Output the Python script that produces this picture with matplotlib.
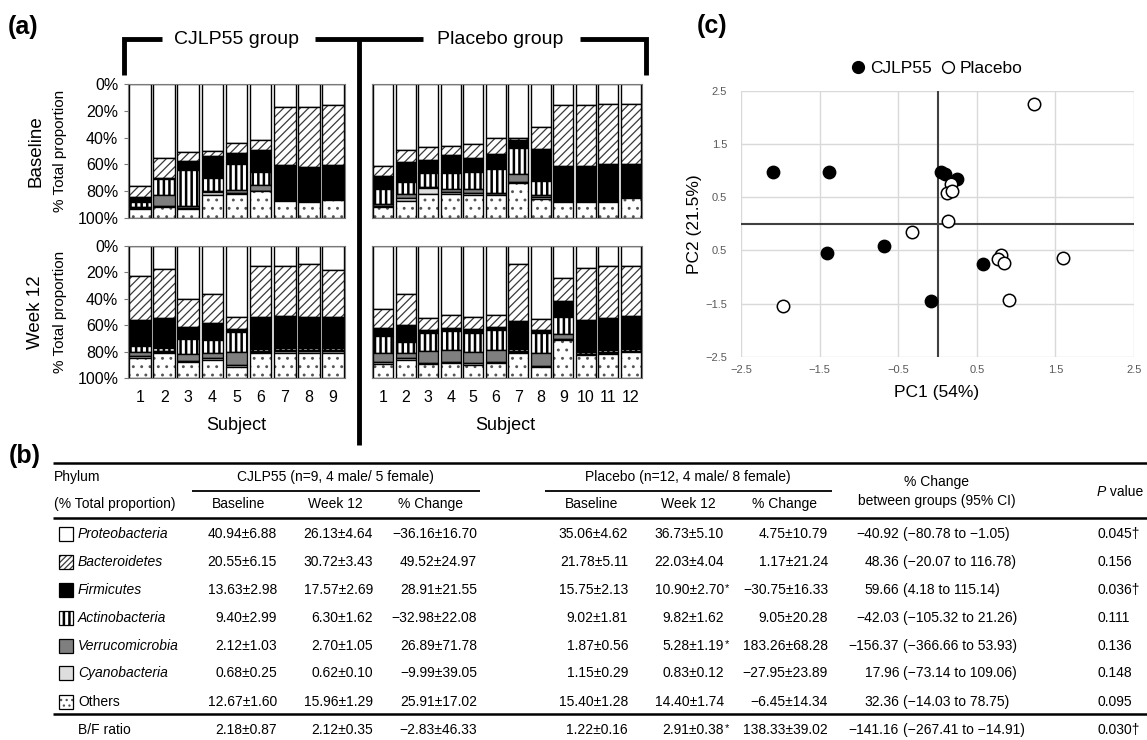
import numpy as np
import matplotlib
matplotlib.use("Agg")
import matplotlib.pyplot as plt
from matplotlib.patches import Rectangle
from matplotlib.lines import Line2D

plt.rcParams['font.family'] = ['Liberation Sans', 'DejaVu Sans']
plt.rcParams['hatch.linewidth'] = 0.9

W, H = 1147, 740

# ---------------- data ----------------
phyla = ["Proteobacteria", "Bacteroidetes", "Firmicutes", "Actinobacteria",
         "Verrucomicrobia", "Cyanobacteria", "Others"]

# rows = phyla (top to bottom of stack), columns = subjects
cjlp_baseline = [
    [76, 55, 51, 50, 44, 42, 17, 17, 15.5],
    [8, 15, 6.5, 3.5, 7.5, 7, 43.5, 45, 45],
    [4, 1, 7, 16.5, 8.5, 16.5, 25.5, 25, 25.5],
    [3.5, 12, 26.5, 9.5, 19, 10, 0.5, 0.3, 0.5],
    [1, 8, 1.5, 1, 2.5, 4, 0.3, 0.2, 0.2],
    [0.5, 1, 0.5, 2, 0.5, 0.5, 0.2, 0.2, 0.2],
    [7, 8, 7, 17.5, 18, 20, 13, 12.3, 13.1],
]
placebo_baseline = [
    [61.5, 49, 47, 46, 44.5, 40, 40, 32, 16, 16, 15, 15],
    [7.5, 9, 9.5, 7, 11, 12.5, 1.5, 16.5, 45, 45, 45, 45],
    [9.5, 15, 10, 13.5, 10, 11, 6, 24, 26, 26, 27, 23.5],
    [11, 9, 10, 11.5, 12.5, 18, 19.5, 10.5, 0.5, 0.3, 0.3, 1],
    [1.5, 3, 1, 2.5, 3, 1, 6, 1.5, 0.3, 0.2, 0.2, 0.3],
    [0.5, 2, 4.5, 1.5, 1.5, 0.5, 1, 1.5, 0.2, 0.2, 0.2, 0.2],
    [8.5, 13, 18, 18, 17.5, 17, 26, 14, 12, 12.3, 12.3, 15],
]
cjlp_week12 = [
    [23, 17.5, 40, 36, 54, 15, 15.5, 14, 18],
    [33, 37, 21, 22.5, 9, 39, 37.5, 40, 36],
    [19.5, 23, 9.5, 13, 2.5, 24, 24.5, 23.5, 23.5],
    [5, 2, 11, 9.5, 15, 1.5, 1.5, 1.5, 1.5],
    [2.5, 0.5, 5.5, 4, 9.5, 0.5, 0.5, 0.5, 0.5],
    [1.5, 1, 1, 1, 1.5, 1, 1.5, 1.5, 1.5],
    [15.5, 19, 12, 14, 8.5, 19, 19, 19, 19],
]
placebo_week12 = [
    [47.5, 36, 54.5, 52.5, 53.5, 52, 13.5, 55, 24, 17, 15, 15.5],
    [14.5, 24, 9, 9.5, 9.5, 9.5, 43, 8.5, 17.5, 39, 39.5, 37.5],
    [6.5, 13, 2.5, 2.5, 3, 2.5, 21.5, 2.5, 12, 24, 24.5, 25],
    [12.5, 8, 13.5, 14, 14.5, 15, 1.5, 15, 13.5, 1.5, 1.5, 1.5],
    [7, 4, 9, 9.5, 8, 9, 0.5, 10, 3.5, 0.5, 0.5, 0.5],
    [1.5, 1.5, 1, 0.5, 1.5, 1, 1, 0.5, 0.5, 0.5, 0.5, 0.5],
    [10.5, 13.5, 10.5, 11.5, 10, 11, 19, 8.5, 29, 17.5, 18.5, 19.5],
]
pct_ticks = [0, 20, 40, 60, 80, 100]
pct_labels = ["0%", "20%", "40%", "60%", "80%", "100%"]

# PCA scores
cjlp_pc1 = [-2.09, -1.38, 0.05, 0.10, 0.25, -0.685, -1.40, 0.575, -0.087]
cjlp_pc2 = [0.97, 0.97, 0.98, 0.93, 0.84, -0.42, -0.56, -0.75, -1.46]
placebo_pc1 = [1.23, 0.17, 0.12, 0.19, 0.13, -0.32, 0.81, 0.77, 0.85, 1.60, 0.91, -1.96]
placebo_pc2 = [2.25, 0.74, 0.58, 0.61, 0.06, -0.16, -0.58, -0.66, -0.73, -0.65, -1.44, -1.55]
pc_ticks = [-2.5, -1.5, -0.5, 0.5, 1.5, 2.5]
pc_xlabels = ["\u22122.5", "\u22121.5", "\u22120.5", "0.5", "1.5", "2.5"]
pc_ylabels = ["\u22122.5", "\u22121.5", "0.5", "0.5", "1.5", "2.5"]

# Table (b)
row_labels = phyla + ["B/F ratio"]
cj_base = ["40.94\u00b16.88", "20.55\u00b16.15", "13.63\u00b12.98", "9.40\u00b12.99",
           "2.12\u00b11.03", "0.68\u00b10.25", "12.67\u00b11.60", "2.18\u00b10.87"]
cj_w12 = ["26.13\u00b14.64", "30.72\u00b13.43", "17.57\u00b12.69", "6.30\u00b11.62",
          "2.70\u00b11.05", "0.62\u00b10.10", "15.96\u00b11.29", "2.12\u00b10.35"]
cj_chg = ["\u221236.16\u00b116.70", "49.52\u00b124.97", "28.91\u00b121.55", "\u221232.98\u00b122.08",
          "26.89\u00b171.78", "\u22129.99\u00b139.05", "25.91\u00b117.02", "\u22122.83\u00b146.33"]
pl_base = ["35.06\u00b14.62", "21.78\u00b15.11", "15.75\u00b12.13", "9.02\u00b11.81",
           "1.87\u00b10.56", "1.15\u00b10.29", "15.40\u00b11.28", "1.22\u00b10.16"]
pl_w12 = ["36.73\u00b15.10", "22.03\u00b14.04", "10.90\u00b12.70*", "9.82\u00b11.62",
          "5.28\u00b11.19*", "0.83\u00b10.12", "14.40\u00b11.74", "2.91\u00b10.38*"]
pl_chg = ["4.75\u00b110.79", "1.17\u00b121.24", "\u221230.75\u00b116.33", "9.05\u00b120.28",
          "183.26\u00b168.28", "\u221227.95\u00b123.89", "\u22126.45\u00b114.34", "138.33\u00b139.02"]
diff = ["\u221240.92", "48.36", "59.66", "\u221242.03", "\u2212156.37", "17.96", "32.36", "\u2212141.16"]
diff_ci = ["(\u221280.78 to \u22121.05)", "(\u221220.07 to 116.78)", "(4.18 to 115.14)",
           "(\u2212105.32 to 21.26)", "(\u2212366.66 to 53.93)", "(\u221273.14 to 109.06)",
           "(\u221214.03 to 78.75)", "(\u2212267.41 to \u221214.91)"]
pvals = ["0.045\u2020", "0.156", "0.036\u2020", "0.111", "0.136", "0.148", "0.095", "0.030\u2020"]

# ---------------- figure ----------------
fig = plt.figure(figsize=(W / 100, H / 100), dpi=100)


def fx(x):
    return x / W


def fy(y):
    return 1 - y / H


def ax_at(x0, y0, x1, y1):
    return fig.add_axes([fx(x0), fy(y1), (x1 - x0) / W, (y1 - y0) / H])


def ftext(x, y, s, **kw):
    kw.setdefault('va', 'center')
    kw.setdefault('ha', 'center')
    return fig.text(fx(x), fy(y), s, **kw)


def fline(xs, ys, lw=1.5, color='black'):
    fig.add_artist(Line2D([fx(v) for v in xs], [fy(v) for v in ys], lw=lw, color=color,
                          solid_capstyle='butt', solid_joinstyle='miter'))


fills = ['white', 'white', 'black', 'white', '#7f7f7f', '#dedede', 'white']
hatches = [None, '////', None, '|||', None, None, '..']
icon_hatches = [None, '//////', None, '|||', None, None, '...']
hcolors = ['black', '#3a3a3a', 'black', 'black', 'black', 'black', '#555555']
hlws = [None, 0.9, None, 1.8, None, None, None]


def set_hlw(p, w):
    if w is None:
        return
    if hasattr(p, 'set_hatch_linewidth'):
        try:
            p.set_hatch_linewidth(w)
        except Exception:
            pass


def stacked(ax, data):
    n = len(data[0])
    x = np.arange(1, n + 1)
    bottom = np.zeros(n)
    for i, vals in enumerate(data):
        v = np.asarray(vals, float)
        bars = ax.bar(x, v, 0.9, bottom=bottom, color=fills[i], hatch=hatches[i],
                      edgecolor=hcolors[i], linewidth=0)
        for p in bars:
            set_hlw(p, hlws[i])
        ax.bar(x, v, 0.9, bottom=bottom, fill=False, edgecolor='black', linewidth=1.0)
        bottom += v
    ax.set_xlim(0.5, n + 0.5)
    ax.set_ylim(100, 0)
    for s in ax.spines.values():
        s.set_color('#7a7a7a')
        s.set_linewidth(0.8)
    ax.set_yticks(pct_ticks)
    return x


panels = [
    (cjlp_baseline, (128, 84, 345, 218), True, False),
    (placebo_baseline, (372, 84, 642, 218), False, False),
    (cjlp_week12, (128, 246, 345, 378), True, True),
    (placebo_week12, (372, 246, 642, 378), False, True),
]
for data, box, lefty, bottomx in panels:
    ax = ax_at(*box)
    x = stacked(ax, data)
    if lefty:
        ax.set_yticklabels(pct_labels)
        ax.tick_params(axis='y', length=3, color='#7a7a7a', labelsize=11.5, pad=4)
    else:
        ax.tick_params(axis='y', left=False, labelleft=False)
    if bottomx:
        ax.set_xticks(x)
        ax.set_xticklabels([str(i) for i in x])
        ax.tick_params(axis='x', length=0, labelsize=11.5, pad=9)
    else:
        ax.set_xticks([])

# panel (a) labels
ftext(8, 27, "(a)", ha='left', fontsize=18, fontweight='bold')
ftext(36, 151, "Baseline", rotation=90, fontsize=13.5)
ftext(60, 151, "% Total proportion", rotation=90, fontsize=11)
ftext(35, 312, "Week 12", rotation=90, fontsize=13.5)
ftext(60, 312, "% Total proportion", rotation=90, fontsize=11)
ftext(236, 425, "Subject", fontsize=13)
ftext(505, 425, "Subject", fontsize=13)
ftext(237, 40, "CJLP55 group", fontsize=14)
ftext(500, 40, "Placebo group", fontsize=14)
fline([124, 124, 162], [75, 39, 39], lw=3.5)
fline([315, 423], [39, 39], lw=3.5)
fline([359, 359], [39, 445], lw=3.5)
fline([580, 646, 646], [39, 39, 75], lw=3.5)

# ---------------- panel (c) ----------------
ftext(697, 26, "(c)", ha='left', fontsize=18, fontweight='bold')
axc = ax_at(741, 90.7, 1134, 356.7)
axc.set_xlim(-2.5, 2.5)
axc.set_ylim(-2.5, 2.5)
axc.set_xticks(pc_ticks)
axc.set_xticklabels(pc_xlabels)
axc.set_yticks(pc_ticks)
axc.set_yticklabels(pc_ylabels)
axc.grid(True, color='#d9d9d9', lw=1)
axc.set_axisbelow(True)
for s in axc.spines.values():
    s.set_visible(False)
axc.tick_params(axis='both', length=0, labelsize=8, labelcolor='#595959')
axc.tick_params(axis='y', pad=10)
axc.tick_params(axis='x', pad=6)
axc.axhline(0, color='#404040', lw=1.5, zorder=2)
axc.axvline(0, color='#404040', lw=1.5, zorder=2)
axc.scatter(cjlp_pc1, cjlp_pc2, s=80, c='black', edgecolors='black', zorder=3, clip_on=False)
axc.scatter(placebo_pc1, placebo_pc2, s=80, facecolors='white', edgecolors='black',
            linewidths=1.1, zorder=4, clip_on=False)
ftext(937, 392, "PC1 (54%)", fontsize=12.5)
ftext(695, 224, "PC2 (21.5%)", rotation=90, fontsize=12.5)
handles = [Line2D([], [], marker='o', ls='', mfc='black', mec='black', ms=8.5, label='CJLP55'),
           Line2D([], [], marker='o', ls='', mfc='white', mec='black', ms=8.5, mew=1.0, label='Placebo')]
fig.legend(handles=handles, loc='center', bbox_to_anchor=(fx(937), fy(68)), ncol=2, frameon=False,
           fontsize=12.5, handletextpad=0.3, columnspacing=0.5, handlelength=0.8, borderpad=0)

# ---------------- panel (b) table ----------------
ftext(9, 456, "(b)", ha='left', fontsize=18, fontweight='bold')
TFS = 10
fline([53, 1147], [463, 463], lw=1.8)
fline([53, 1147], [518, 518], lw=1.8)
fline([53, 1147], [714, 714], lw=1.8)
fline([192, 480], [491, 491], lw=1.3)
fline([545, 832], [491, 491], lw=1.3)

ftext(54, 477, "Phylum", ha='left', fontsize=TFS)
ftext(54, 504, "(% Total proportion)", ha='left', fontsize=TFS)
ftext(335, 477, "CJLP55 (n=9, 4 male/ 5 female)", fontsize=TFS)
ftext(688, 477, "Placebo (n=12, 4 male/ 8 female)", fontsize=TFS)
for cx, lab in zip([239, 335, 431, 592, 688, 784],
                   ["Baseline", "Week 12", "% Change", "Baseline", "Week 12", "% Change"]):
    ftext(cx, 504, lab, fontsize=TFS)
ftext(937, 482, "% Change", fontsize=TFS)
ftext(937, 501, "between groups (95% CI)", fontsize=TFS)
ftext(1097, 492, "P", ha='left', fontsize=TFS, style='italic')
ftext(1106, 492, " value", ha='left', fontsize=TFS)

row_y = [534, 562, 590, 618, 646, 673, 702, 730]
for i, lab in enumerate(row_labels):
    y = row_y[i]
    if i < len(phyla):
        r1 = Rectangle((fx(59), fy(y + 7)), 14 / W, 14 / H, transform=fig.transFigure,
                       facecolor=fills[i], hatch=icon_hatches[i], edgecolor=hcolors[i], lw=0)
        set_hlw(r1, hlws[i])
        fig.add_artist(r1)
        fig.add_artist(Rectangle((fx(59), fy(y + 7)), 14 / W, 14 / H, transform=fig.transFigure,
                                 fill=False, edgecolor='black', lw=0.9))
        ftext(78, y, lab, ha='left', fontsize=TFS, style='italic' if i < 6 else 'normal')
    else:
        ftext(78, y, lab, ha='left', fontsize=TFS)

    for col, xr in [(cj_base, 277), (cj_w12, 373), (cj_chg, 477),
                    (pl_base, 628), (pl_w12, 724), (pl_chg, 828)]:
        s = col[i]
        if s.endswith('*'):
            ftext(xr, y, s[:-1], ha='right', fontsize=TFS)
            ftext(xr + 1, y - 2, '*', ha='left', fontsize=8)
        else:
            ftext(xr, y, s, ha='right', fontsize=TFS)
    ftext(899, y, diff[i], ha='right', fontsize=TFS)
    ftext(903, y, diff_ci[i], ha='left', fontsize=TFS)
    ftext(1098, y, pvals[i], ha='left', fontsize=TFS)

fig.savefig("out.png", dpi=100)
